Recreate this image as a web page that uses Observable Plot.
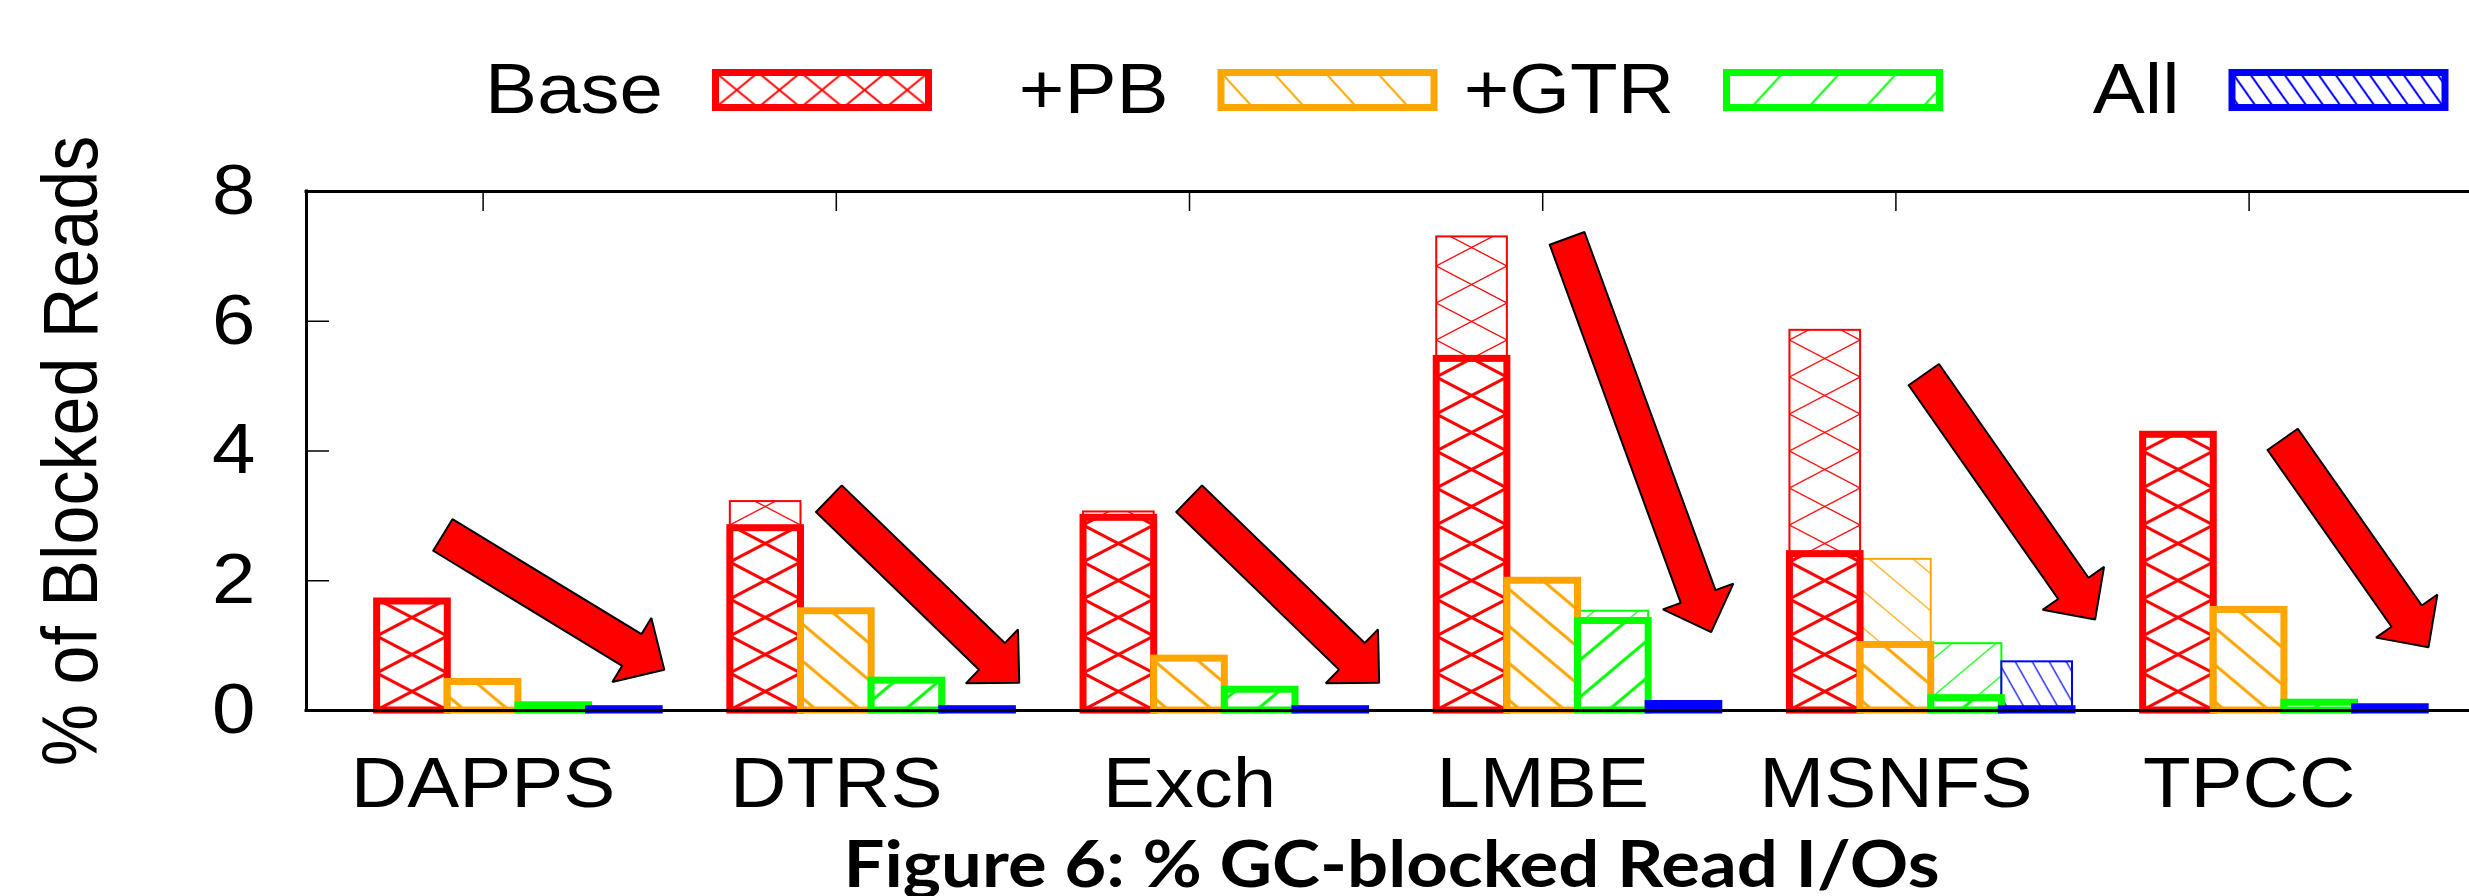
<!DOCTYPE html>
<html><head><meta charset="utf-8">
<script src="https://cdn.jsdelivr.net/npm/d3@7"></script>
<script src="https://cdn.jsdelivr.net/npm/@observablehq/plot@0.6"></script>
<style>
html,body{margin:0;padding:0;background:#fff;overflow:hidden}
#chart svg{display:block}
</style>
</head><body><div id="chart"></div>
<script>
// ---------------- data ----------------
const categories = ["DAPPS", "DTRS", "Exch", "LMBE", "MSNFS", "TPCC"];
const seriesNames = ["Base", "+PB", "+GTR", "All"];
// main (thick outline) bars, % of blocked reads
const base = [1.68, 2.81, 2.97, 5.42, 2.41, 4.25];
const pb   = [0.44, 1.53, 0.80, 2.00, 1.01, 1.55];
const gtr  = [0.08, 0.46, 0.32, 1.38, 0.19, 0.12];
const all  = [0.02, 0.02, 0.02, 0.10, 0.02, 0.05];
// faded (thin outline) bars behind them, only where visible
const baseThin = [null, 3.22, 3.06, 7.30, 5.86, null];
const pbThin   = [null, null, null, null, 2.33, null];
const gtrThin  = [null, null, null, 1.53, 1.03, null];
const allThin  = [null, null, null, null, 0.75, null];
const yTicks = [0, 2, 4, 6, 8];
// annotation arrows (tail -> tip) in data units (x = category index, y = %)
const arrowTail = [[-0.114, 2.706], [0.979, 3.265], [1.999, 3.265], [3.069, 7.278], [4.079, 5.177], [5.095, 4.179]];
const arrowTip  = [[0.513, 0.628], [1.518, 0.427], [2.537, 0.427], [3.477, 1.207], [4.564, 1.403], [5.508, 0.976]];
const yLabel = "% of Blocked Reads";
const caption = "Figure 6: % GC-blocked Read I/Os";

// ---------------- layout / style ----------------
const W = 2469, H = 896;
const mL = 306, mT = 191, mB = 186, mR = 0;
const xDomain = [-0.5, 5.624];
const yDomain = [0, 8];
const colors = ["#ff0000", "#ffa500", "#00ff00", "#0000ff"];
const FONT = "'Liberation Sans', Arial, Helvetica, sans-serif";
const STRETCH = 1.115;
const BW = 0.2; // bar width in category units

const xs = d3.scaleLinear(xDomain, [mL, W - mR]);
const ys = d3.scaleLinear(yDomain, [H - mB, mT]);

const thickVals = [base, pb, gtr, all];
const thinVals = [baseThin, pbThin, gtrThin, allThin];
function rows(list) {
  return list.flatMap((vals, j) => vals.map((v, i) => ({i, j, v, x1: i + (j - 1.5) * BW, x2: i + (j - 0.5) * BW}))
    .filter(r => r.v != null));
}
const thickRows = rows(thickVals);
const thinRows = rows(thinVals);

// arrows as closed polygons (shape in pixels, converted back through the scales)
const SHAFT = 37, HEADW = 75, HEADL = 38;
const arrowPts = [];
arrowTail.forEach((t, k) => {
  const tx = xs(t[0]), ty = ys(t[1]), px = xs(arrowTip[k][0]), py = ys(arrowTip[k][1]);
  const L = Math.hypot(px - tx, py - ty), dx = (px - tx) / L, dy = (py - ty) / L, nx = -dy, ny = dx;
  const bx = px - dx * HEADL, by = py - dy * HEADL;
  const poly = [
    [tx + nx * SHAFT / 2, ty + ny * SHAFT / 2], [bx + nx * SHAFT / 2, by + ny * SHAFT / 2],
    [bx + nx * HEADW / 2, by + ny * HEADW / 2], [px, py],
    [bx - nx * HEADW / 2, by - ny * HEADW / 2], [bx - nx * SHAFT / 2, by - ny * SHAFT / 2],
    [tx - nx * SHAFT / 2, ty - ny * SHAFT / 2]];
  poly.push(poly[0]);
  poly.forEach(([X, Y]) => arrowPts.push({k, x: xs.invert(X), y: ys.invert(Y)}));
});

const bwPx = xs(BW) - xs(0);
const barPat = [
  {kind: "x", W: bwPx, H: 37},
  {kind: "back", W: 44, H: 37},
  {kind: "fwd", W: 44, H: 37},
  {kind: "back", W: 17, H: 30}
];
const legPat = [
  {kind: "x", W: 42.6, H: 35},
  {kind: "back", W: 52, H: 57},
  {kind: "fwd", W: 57, H: 62},
  {kind: "back", W: 17, H: 24}
];

const frameW = W - mL - mR, frameH = H - mT - mB;

const svg = Plot.plot({
  width: W, height: H,
  marginLeft: mL, marginRight: mR, marginTop: mT, marginBottom: mB,
  x: {domain: xDomain, axis: null},
  y: {domain: yDomain, axis: null},
  style: {fontFamily: FONT, fontSize: "70px", background: "white", color: "black", overflow: "visible"},
  marks: [
    ...seriesNames.map((s, j) => Plot.rect(thinRows.filter(r => r.j === j), {
      x1: "x1", x2: "x2", y1: 0, y2: "v",
      fill: `url(#thin-${j})`, stroke: colors[j], strokeWidth: 2
    })),
    ...seriesNames.map((s, j) => Plot.rect(thickRows.filter(r => r.j === j), {
      x1: "x1", x2: "x2", y1: 0, y2: "v",
      fill: `url(#thick-${j})`, stroke: colors[j], strokeWidth: 7
    })),
    Plot.ruleY([0, 8], {stroke: "black", strokeWidth: 3, strokeLinecap: "square"}),
    Plot.ruleX([xDomain[0]], {stroke: "black", strokeWidth: 3, strokeLinecap: "square"}),
    Plot.tickY(yTicks.slice(1, -1), {y: d => d, stroke: "black", strokeWidth: 1.5, insetRight: frameW - 23}),
    Plot.tickX(d3.range(categories.length), {x: d => d, stroke: "black", strokeWidth: 1.5, insetBottom: frameH - 20}),
    Plot.text(yTicks, {y: d => d, text: d => String(d), frameAnchor: "left", dx: -51, textAnchor: "end",
      lineAnchor: "middle", fontSize: 70, fill: "black", ariaLabel: () => "ytick-label"}),
    Plot.text(categories, {x: (d, i) => i, text: d => d, frameAnchor: "bottom", dy: 96, lineAnchor: "bottom",
      textAnchor: "middle", fontSize: 70, fill: "black", ariaLabel: () => "xtick-label"}),
    Plot.text([yLabel], {text: d => d, frameAnchor: "left", dx: -210, rotate: -90, lineAnchor: "bottom",
      textAnchor: "middle", fontSize: 70, fill: "black", ariaLabel: () => "y-title"}),
    Plot.text([caption], {text: d => d, frameAnchor: "bottom", dx: 3.5, dy: 176, lineAnchor: "bottom",
      textAnchor: "middle", fontSize: 65, fontWeight: 700, fontFamily: "Lato, 'Open Sans', sans-serif",
      fill: "black", ariaLabel: () => "caption"}),
    Plot.line(arrowPts, {x: "x", y: "y", z: "k", fill: "#ff0000", stroke: "black", strokeWidth: 2, strokeLinejoin: "miter"})
  ]
});
document.getElementById("chart").appendChild(svg);

// ---------------- patterns ----------------
const root = d3.select(svg);
const defs = root.insert("defs", ":first-child");
function addPattern(id, spec, color, lw, x0, y0) {
  const {kind, W: w, H: h} = spec;
  const p = defs.append("pattern").attr("id", id).attr("patternUnits", "userSpaceOnUse")
    .attr("x", x0).attr("y", y0).attr("width", w).attr("height", h);
  p.append("rect").attr("width", w).attr("height", h).attr("fill", "white");
  for (let k = -1; k <= 1; k++) {
    if (kind === "x" || kind === "back")
      p.append("line").attr("x1", k * w - w).attr("y1", -h).attr("x2", k * w + 2 * w).attr("y2", 2 * h)
        .attr("stroke", color).attr("stroke-width", lw);
    if (kind === "x" || kind === "fwd")
      p.append("line").attr("x1", k * w - w).attr("y1", 2 * h).attr("x2", k * w + 2 * w).attr("y2", -h)
        .attr("stroke", color).attr("stroke-width", lw);
  }
}
const px0 = xs(-1.5 * BW), py0 = ys(0);
seriesNames.forEach((s, j) => {
  addPattern(`thick-${j}`, barPat[j], colors[j], 3, px0, py0);
  addPattern(`thin-${j}`, barPat[j], colors[j], 1.2, px0, py0);
});

// ---------------- legend ----------------
const LEG_X0 = 715.5, LEG_STEP = 505.5, LEG_Y = 72.5, LEG_W = 213, LEG_H = 35, LEG_TEXT_GAP = 52.5, LEG_BASE = 113;
const leg = root.append("g").attr("aria-label", "legend");
seriesNames.forEach((name, i) => {
  const sx = LEG_X0 + i * LEG_STEP;
  addPattern(`leg-${i}`, legPat[i], colors[i], 2, sx, LEG_Y);
  leg.append("rect").attr("x", sx).attr("y", LEG_Y).attr("width", LEG_W).attr("height", LEG_H)
    .attr("fill", `url(#leg-${i})`).attr("stroke", colors[i]).attr("stroke-width", 7);
  leg.append("text").attr("class", "legend-label").attr("x", sx - LEG_TEXT_GAP).attr("y", LEG_BASE)
    .attr("text-anchor", "end").attr("font-family", FONT).attr("font-size", 70).attr("fill", "black").text(name);
});

// ---------------- glyph stretching (the reference is horizontally stretched) ----------------
function stretchX(sel, f) {
  sel.each(function () {
    const t = this.getAttribute("transform");
    if (t) {
      this.setAttribute("transform", t + ` scale(${f},1)`);
    } else {
      const x = +this.getAttribute("x") || 0, y = +this.getAttribute("y") || 0;
      this.removeAttribute("x"); this.removeAttribute("y");
      this.setAttribute("transform", `translate(${x},${y}) scale(${f},1)`);
    }
  });
}
stretchX(root.selectAll("text[aria-label='ytick-label']"), STRETCH);
stretchX(root.selectAll("text[aria-label='xtick-label']"), STRETCH);
stretchX(root.selectAll("text[aria-label='caption']"), STRETCH);
stretchX(root.selectAll("text.legend-label"), STRETCH);
root.selectAll("text[aria-label='y-title']").each(function () {
  const t = this.getAttribute("transform") || "";
  this.setAttribute("transform", t + ` scale(1,${STRETCH})`);
});
</script>
</body></html>
